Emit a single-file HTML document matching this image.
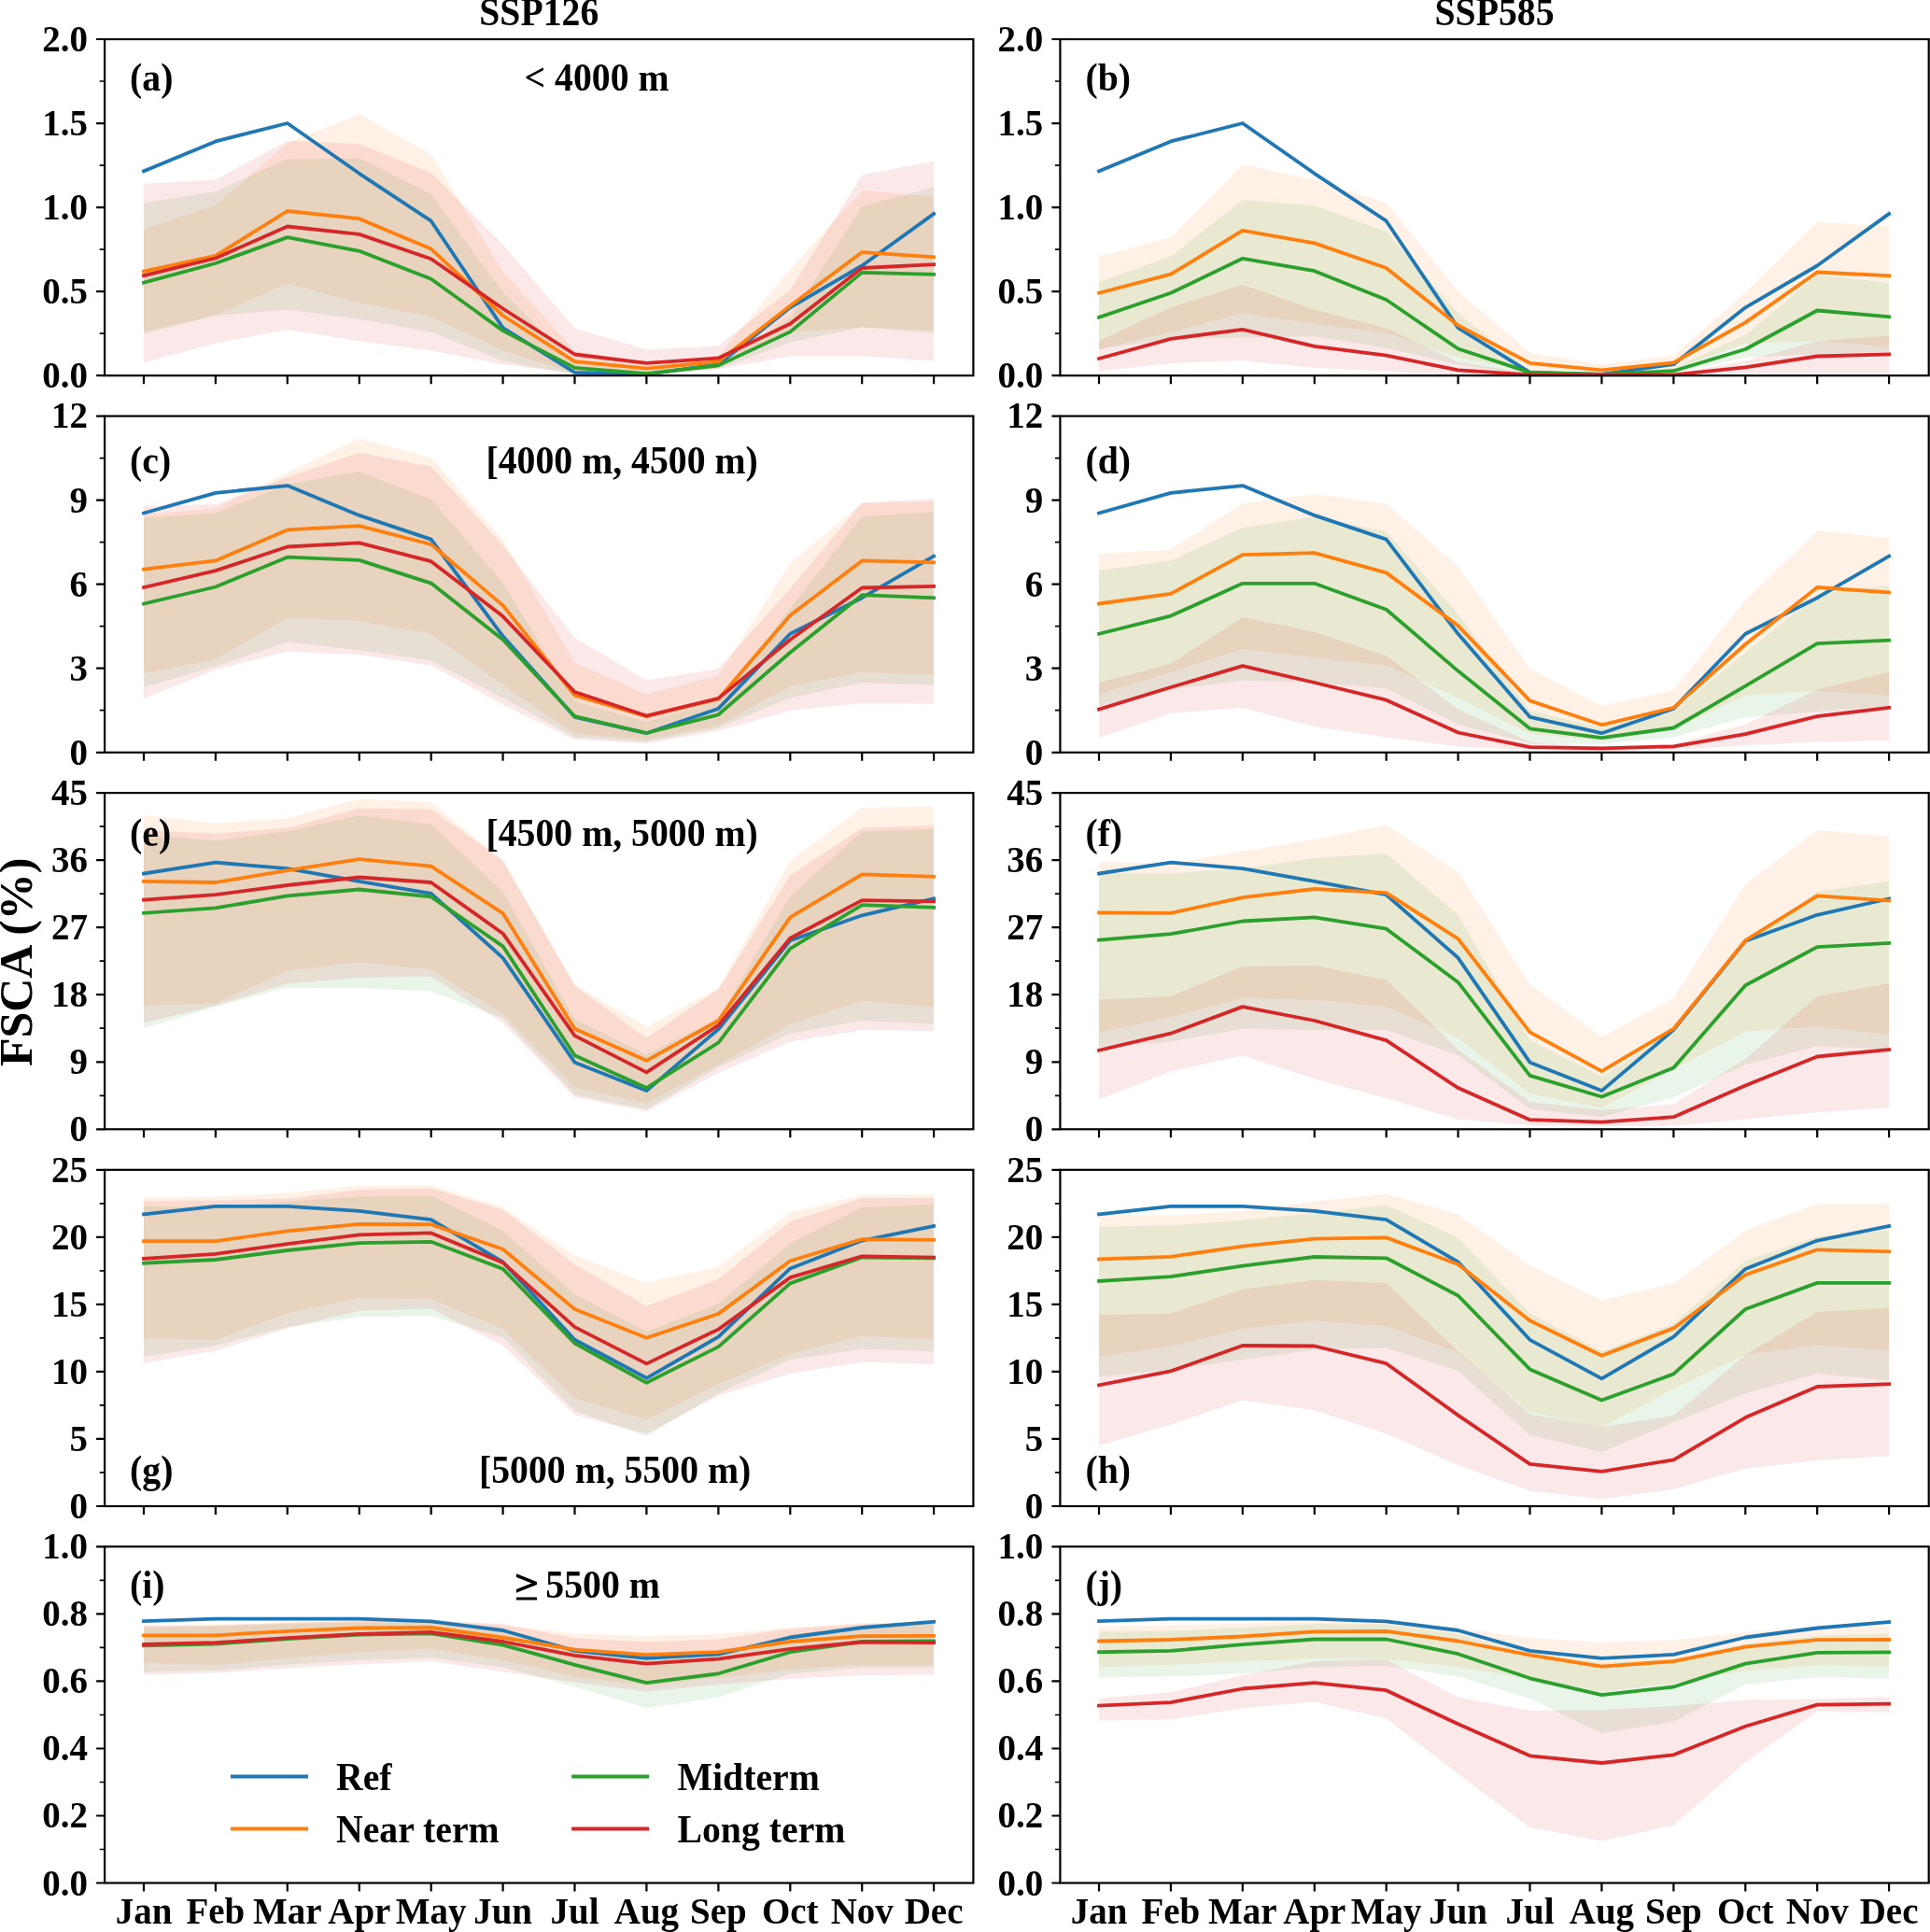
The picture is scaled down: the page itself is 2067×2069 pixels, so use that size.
<!DOCTYPE html><html><head><meta charset="utf-8"><title>FSCA</title><style>html,body{margin:0;padding:0;background:#fff;}svg{display:block;will-change:transform;}text{font-family:"Liberation Serif",serif;font-weight:bold;fill:#000;}.t{font-size:39.0px;}.a{font-size:39.75px;}</style></head><body>
<svg width="2067" height="2069" viewBox="0 0 2067 2069">
<rect x="0" y="0" width="2067" height="2069" fill="#fff"/>
<g>
<polygon fill="#ff7f0e" fill-opacity="0.105" points="154.0,245.4 230.9,220.1 307.8,153.2 384.8,122.1 461.7,165.6 538.6,290.7 615.5,375.3 692.4,390.2 769.4,381.5 846.3,288.2 923.2,203.7 1000.1,211.1 1000.1,354.1 923.2,350.4 846.3,355.4 769.4,393.9 692.4,401.4 615.5,400.1 538.6,375.3 461.7,339.2 384.8,324.3 307.8,303.6 230.9,337.5 154.0,354.9"/>
<polygon fill="#2ca02c" fill-opacity="0.105" points="154.0,217.3 230.9,204.9 307.8,170.6 384.8,169.6 461.7,208.1 538.6,313.1 615.5,388.9 692.4,397.6 769.4,388.9 846.3,340.4 923.2,221.1 1000.1,200.4 1000.1,356.6 923.2,350.4 846.3,366.6 769.4,395.2 692.4,401.4 615.5,401.4 538.6,386.5 461.7,355.4 384.8,341.7 307.8,331.7 230.9,338.0 154.0,357.4"/>
<polygon fill="#d62728" fill-opacity="0.105" points="154.0,196.7 230.9,192.5 307.8,150.7 384.8,153.9 461.7,185.0 538.6,262.1 615.5,351.6 692.4,374.5 769.4,370.3 846.3,310.6 923.2,187.5 1000.1,172.6 1000.1,386.5 923.2,381.5 846.3,381.5 769.4,395.2 692.4,401.4 615.5,400.1 538.6,390.2 461.7,375.3 384.8,365.3 307.8,352.9 230.9,367.8 154.0,388.2"/>
<polyline fill="none" stroke="#1f77b4" stroke-width="3.8" stroke-linejoin="round" stroke-linecap="square" points="154.0,183.3 230.9,151.4 307.8,132.0 384.8,185.8 461.7,236.7 538.6,351.1 615.5,398.9 692.4,400.9 769.4,390.2 846.3,329.3 923.2,284.5 1000.1,229.0"/>
<polyline fill="none" stroke="#ff7f0e" stroke-width="3.8" stroke-linejoin="round" stroke-linecap="square" points="154.0,290.7 230.9,273.8 307.8,226.0 384.8,234.2 461.7,266.6 538.6,338.0 615.5,387.2 692.4,394.7 769.4,387.2 846.3,327.5 923.2,270.1 1000.1,275.3"/>
<polyline fill="none" stroke="#2ca02c" stroke-width="3.8" stroke-linejoin="round" stroke-linecap="square" points="154.0,302.6 230.9,282.0 307.8,254.1 384.8,268.8 461.7,298.7 538.6,354.1 615.5,393.9 692.4,400.1 769.4,391.4 846.3,355.4 923.2,291.9 1000.1,293.9"/>
<polyline fill="none" stroke="#d62728" stroke-width="3.8" stroke-linejoin="round" stroke-linecap="square" points="154.0,295.2 230.9,276.5 307.8,242.5 384.8,250.9 461.7,277.3 538.6,330.5 615.5,379.5 692.4,388.9 769.4,383.5 846.3,346.7 923.2,287.0 1000.1,283.2"/>
<rect x="112.1" y="42.0" width="930.3" height="360.2" fill="none" stroke="#000" stroke-width="2.2"/>
<path d="M154.0 402.2v9.0M230.9 402.2v9.0M307.8 402.2v9.0M384.8 402.2v9.0M461.7 402.2v9.0M538.6 402.2v9.0M615.5 402.2v9.0M692.4 402.2v9.0M769.4 402.2v9.0M846.3 402.2v9.0M923.2 402.2v9.0M1000.1 402.2v9.0M112.1 402.2h-9.0M112.1 312.1h-9.0M112.1 222.1h-9.0M112.1 132.1h-9.0M112.1 42.0h-9.0" stroke="#000" stroke-width="2.2" fill="none"/>
<path d="M112.1 357.2h-5.4M112.1 267.1h-5.4M112.1 177.1h-5.4M112.1 87.0h-5.4" stroke="#000" stroke-width="1.7" fill="none"/>
<text class="t" text-anchor="end" transform="translate(93.9,415.1) scale(1,1.045)">0.0</text>
<text class="t" text-anchor="end" transform="translate(93.9,325.0) scale(1,1.045)">0.5</text>
<text class="t" text-anchor="end" transform="translate(93.9,235.0) scale(1,1.045)">1.0</text>
<text class="t" text-anchor="end" transform="translate(93.9,145.0) scale(1,1.045)">1.5</text>
<text class="t" text-anchor="end" transform="translate(93.9,54.9) scale(1,1.045)">2.0</text>
</g>
<g>
<polygon fill="#ff7f0e" fill-opacity="0.105" points="1177.0,274.5 1253.9,253.9 1330.8,176.3 1407.8,192.5 1484.7,217.3 1561.6,311.8 1638.5,377.8 1715.4,390.2 1792.4,380.7 1869.3,313.1 1946.2,237.7 2023.1,242.2 2023.1,371.5 1946.2,365.3 1869.3,367.8 1792.4,395.2 1715.4,400.1 1638.5,397.6 1561.6,382.7 1484.7,356.6 1407.8,346.7 1330.8,335.5 1253.9,355.4 1177.0,374.0"/>
<polygon fill="#2ca02c" fill-opacity="0.105" points="1177.0,301.9 1253.9,274.5 1330.8,214.1 1407.8,220.3 1484.7,247.9 1561.6,335.5 1638.5,396.4 1715.4,400.1 1792.4,393.9 1869.3,359.1 1946.2,294.4 2023.1,303.1 2023.1,376.5 1946.2,379.0 1869.3,382.7 1792.4,400.1 1715.4,401.4 1638.5,401.4 1561.6,390.2 1484.7,372.8 1407.8,360.3 1330.8,361.6 1253.9,362.8 1177.0,374.0"/>
<polygon fill="#d62728" fill-opacity="0.105" points="1177.0,365.3 1253.9,329.3 1330.8,305.1 1407.8,331.7 1484.7,351.6 1561.6,387.7 1638.5,400.1 1715.4,401.4 1792.4,400.1 1869.3,386.5 1946.2,365.3 2023.1,359.8 2023.1,400.1 1946.2,400.1 1869.3,400.1 1792.4,401.4 1715.4,401.4 1638.5,401.4 1561.6,401.4 1484.7,397.6 1407.8,393.9 1330.8,386.0 1253.9,388.9 1177.0,397.6"/>
<polyline fill="none" stroke="#1f77b4" stroke-width="3.8" stroke-linejoin="round" stroke-linecap="square" points="1177.0,183.3 1253.9,151.4 1330.8,132.0 1407.8,185.8 1484.7,236.7 1561.6,351.1 1638.5,398.9 1715.4,400.9 1792.4,390.2 1869.3,329.3 1946.2,284.5 2023.1,229.0"/>
<polyline fill="none" stroke="#ff7f0e" stroke-width="3.8" stroke-linejoin="round" stroke-linecap="square" points="1177.0,313.8 1253.9,293.7 1330.8,246.9 1407.8,260.4 1484.7,287.0 1561.6,348.4 1638.5,388.9 1715.4,396.4 1792.4,388.4 1869.3,345.4 1946.2,291.5 2023.1,295.2"/>
<polyline fill="none" stroke="#2ca02c" stroke-width="3.8" stroke-linejoin="round" stroke-linecap="square" points="1177.0,339.9 1253.9,313.8 1330.8,276.8 1407.8,290.2 1484.7,321.0 1561.6,373.5 1638.5,398.9 1715.4,400.9 1792.4,397.2 1869.3,374.0 1946.2,332.5 2023.1,339.2"/>
<polyline fill="none" stroke="#d62728" stroke-width="3.8" stroke-linejoin="round" stroke-linecap="square" points="1177.0,384.0 1253.9,362.8 1330.8,352.9 1407.8,370.8 1484.7,380.7 1561.6,396.4 1638.5,401.4 1715.4,401.4 1792.4,401.4 1869.3,393.4 1946.2,381.5 2023.1,379.5"/>
<rect x="1135.4" y="42.0" width="930.3" height="360.2" fill="none" stroke="#000" stroke-width="2.2"/>
<path d="M1177.0 402.2v9.0M1253.9 402.2v9.0M1330.8 402.2v9.0M1407.8 402.2v9.0M1484.7 402.2v9.0M1561.6 402.2v9.0M1638.5 402.2v9.0M1715.4 402.2v9.0M1792.4 402.2v9.0M1869.3 402.2v9.0M1946.2 402.2v9.0M2023.1 402.2v9.0M1135.4 402.2h-9.0M1135.4 312.1h-9.0M1135.4 222.1h-9.0M1135.4 132.1h-9.0M1135.4 42.0h-9.0" stroke="#000" stroke-width="2.2" fill="none"/>
<path d="M1135.4 357.2h-5.4M1135.4 267.1h-5.4M1135.4 177.1h-5.4M1135.4 87.0h-5.4" stroke="#000" stroke-width="1.7" fill="none"/>
<text class="t" text-anchor="end" transform="translate(1117.2,415.1) scale(1,1.045)">0.0</text>
<text class="t" text-anchor="end" transform="translate(1117.2,325.0) scale(1,1.045)">0.5</text>
<text class="t" text-anchor="end" transform="translate(1117.2,235.0) scale(1,1.045)">1.0</text>
<text class="t" text-anchor="end" transform="translate(1117.2,145.0) scale(1,1.045)">1.5</text>
<text class="t" text-anchor="end" transform="translate(1117.2,54.9) scale(1,1.045)">2.0</text>
</g>
<g>
<polygon fill="#ff7f0e" fill-opacity="0.105" points="154.0,550.7 230.9,544.5 307.8,505.9 384.8,469.4 461.7,490.3 538.6,578.1 615.5,709.9 692.4,743.4 769.4,723.5 846.3,602.9 923.2,539.0 1000.1,537.0 1000.1,722.8 923.2,719.8 846.3,734.7 769.4,777.0 692.4,791.9 615.5,785.7 538.6,733.5 461.7,678.8 384.8,665.1 307.8,661.4 230.9,706.1 154.0,721.1"/>
<polygon fill="#2ca02c" fill-opacity="0.105" points="154.0,554.4 230.9,549.5 307.8,518.4 384.8,505.2 461.7,534.5 538.6,624.1 615.5,750.9 692.4,773.3 769.4,750.9 846.3,651.4 923.2,553.2 1000.1,548.2 1000.1,733.5 923.2,731.0 846.3,747.2 769.4,779.5 692.4,794.4 615.5,789.5 538.6,747.2 461.7,707.4 384.8,696.2 307.8,687.5 230.9,713.6 154.0,736.0"/>
<polygon fill="#d62728" fill-opacity="0.105" points="154.0,542.0 230.9,540.0 307.8,510.9 384.8,484.8 461.7,499.7 538.6,584.3 615.5,683.0 692.4,728.5 769.4,716.1 846.3,630.3 923.2,538.3 1000.1,534.0 1000.1,753.4 923.2,752.9 846.3,760.9 769.4,782.7 692.4,796.2 615.5,791.9 538.6,754.6 461.7,712.4 384.8,701.2 307.8,697.4 230.9,717.3 154.0,747.9"/>
<polyline fill="none" stroke="#1f77b4" stroke-width="3.8" stroke-linejoin="round" stroke-linecap="square" points="154.0,549.5 230.9,527.8 307.8,520.1 384.8,551.9 461.7,577.6 538.6,681.3 615.5,767.8 692.4,785.2 769.4,758.9 846.3,678.8 923.2,640.2 1000.1,595.5"/>
<polyline fill="none" stroke="#ff7f0e" stroke-width="3.8" stroke-linejoin="round" stroke-linecap="square" points="154.0,609.6 230.9,600.4 307.8,567.4 384.8,563.1 461.7,583.0 538.6,648.4 615.5,744.7 692.4,767.1 769.4,748.4 846.3,658.9 923.2,600.4 1000.1,602.4"/>
<polyline fill="none" stroke="#2ca02c" stroke-width="3.8" stroke-linejoin="round" stroke-linecap="square" points="154.0,646.5 230.9,628.5 307.8,596.7 384.8,599.9 461.7,624.6 538.6,685.0 615.5,767.1 692.4,785.0 769.4,765.3 846.3,698.7 923.2,637.2 1000.1,640.2"/>
<polyline fill="none" stroke="#d62728" stroke-width="3.8" stroke-linejoin="round" stroke-linecap="square" points="154.0,629.0 230.9,611.1 307.8,585.5 384.8,581.3 461.7,601.2 538.6,660.1 615.5,741.0 692.4,766.6 769.4,747.9 846.3,685.0 923.2,629.5 1000.1,628.0"/>
<rect x="112.1" y="445.6" width="930.3" height="360.2" fill="none" stroke="#000" stroke-width="2.2"/>
<path d="M154.0 805.8v9.0M230.9 805.8v9.0M307.8 805.8v9.0M384.8 805.8v9.0M461.7 805.8v9.0M538.6 805.8v9.0M615.5 805.8v9.0M692.4 805.8v9.0M769.4 805.8v9.0M846.3 805.8v9.0M923.2 805.8v9.0M1000.1 805.8v9.0M112.1 805.8h-9.0M112.1 715.7h-9.0M112.1 625.6h-9.0M112.1 535.6h-9.0M112.1 445.6h-9.0" stroke="#000" stroke-width="2.2" fill="none"/>
<path d="M112.1 760.7h-5.4M112.1 670.7h-5.4M112.1 580.6h-5.4M112.1 490.6h-5.4" stroke="#000" stroke-width="1.7" fill="none"/>
<text class="t" text-anchor="end" transform="translate(93.9,818.6) scale(1,1.045)">0</text>
<text class="t" text-anchor="end" transform="translate(93.9,728.6) scale(1,1.045)">3</text>
<text class="t" text-anchor="end" transform="translate(93.9,638.5) scale(1,1.045)">6</text>
<text class="t" text-anchor="end" transform="translate(93.9,548.5) scale(1,1.045)">9</text>
<text class="t" text-anchor="end" transform="translate(93.9,458.4) scale(1,1.045)">12</text>
</g>
<g>
<polygon fill="#ff7f0e" fill-opacity="0.105" points="1177.0,593.0 1253.9,588.5 1330.8,539.0 1407.8,529.1 1484.7,539.5 1561.6,606.7 1638.5,716.1 1715.4,755.9 1792.4,739.0 1869.3,642.7 1946.2,568.1 2023.1,576.3 2023.1,744.7 1946.2,739.7 1869.3,744.7 1792.4,780.8 1715.4,793.2 1638.5,785.7 1561.6,747.2 1484.7,712.4 1407.8,704.2 1330.8,694.9 1253.9,719.8 1177.0,743.4"/>
<polygon fill="#2ca02c" fill-opacity="0.105" points="1177.0,611.1 1253.9,600.4 1330.8,565.1 1407.8,553.2 1484.7,569.4 1561.6,657.6 1638.5,760.9 1715.4,779.5 1792.4,762.1 1869.3,698.7 1946.2,636.5 2023.1,627.1 2023.1,755.9 1946.2,762.1 1869.3,768.3 1792.4,789.5 1715.4,796.9 1638.5,795.7 1561.6,775.8 1484.7,737.2 1407.8,731.0 1330.8,728.5 1253.9,738.5 1177.0,755.9"/>
<polygon fill="#d62728" fill-opacity="0.105" points="1177.0,731.0 1253.9,711.1 1330.8,660.9 1407.8,676.8 1484.7,702.4 1561.6,759.6 1638.5,794.4 1715.4,799.4 1792.4,796.9 1869.3,775.8 1946.2,738.5 2023.1,719.8 2023.1,793.2 1946.2,794.4 1869.3,798.2 1792.4,803.1 1715.4,803.6 1638.5,803.1 1561.6,799.4 1484.7,789.5 1407.8,778.3 1330.8,757.9 1253.9,763.8 1177.0,790.2"/>
<polyline fill="none" stroke="#1f77b4" stroke-width="3.8" stroke-linejoin="round" stroke-linecap="square" points="1177.0,549.5 1253.9,527.8 1330.8,520.1 1407.8,551.9 1484.7,577.6 1561.6,678.8 1638.5,767.8 1715.4,785.2 1792.4,758.9 1869.3,678.8 1946.2,640.2 2023.1,595.5"/>
<polyline fill="none" stroke="#ff7f0e" stroke-width="3.8" stroke-linejoin="round" stroke-linecap="square" points="1177.0,646.5 1253.9,635.8 1330.8,594.2 1407.8,592.2 1484.7,613.4 1561.6,670.1 1638.5,750.4 1715.4,776.3 1792.4,757.9 1869.3,690.0 1946.2,629.0 2023.1,634.5"/>
<polyline fill="none" stroke="#2ca02c" stroke-width="3.8" stroke-linejoin="round" stroke-linecap="square" points="1177.0,678.8 1253.9,659.6 1330.8,624.8 1407.8,624.8 1484.7,652.7 1561.6,718.6 1638.5,780.3 1715.4,790.2 1792.4,779.5 1869.3,734.7 1946.2,689.2 2023.1,685.7"/>
<polyline fill="none" stroke="#d62728" stroke-width="3.8" stroke-linejoin="round" stroke-linecap="square" points="1177.0,759.6 1253.9,736.0 1330.8,713.1 1407.8,731.0 1484.7,749.7 1561.6,784.5 1638.5,800.2 1715.4,801.4 1792.4,799.4 1869.3,786.2 1946.2,767.1 2023.1,757.9"/>
<rect x="1135.4" y="445.6" width="930.3" height="360.2" fill="none" stroke="#000" stroke-width="2.2"/>
<path d="M1177.0 805.8v9.0M1253.9 805.8v9.0M1330.8 805.8v9.0M1407.8 805.8v9.0M1484.7 805.8v9.0M1561.6 805.8v9.0M1638.5 805.8v9.0M1715.4 805.8v9.0M1792.4 805.8v9.0M1869.3 805.8v9.0M1946.2 805.8v9.0M2023.1 805.8v9.0M1135.4 805.8h-9.0M1135.4 715.7h-9.0M1135.4 625.6h-9.0M1135.4 535.6h-9.0M1135.4 445.6h-9.0" stroke="#000" stroke-width="2.2" fill="none"/>
<path d="M1135.4 760.7h-5.4M1135.4 670.7h-5.4M1135.4 580.6h-5.4M1135.4 490.6h-5.4" stroke="#000" stroke-width="1.7" fill="none"/>
<text class="t" text-anchor="end" transform="translate(1117.2,818.6) scale(1,1.045)">0</text>
<text class="t" text-anchor="end" transform="translate(1117.2,728.6) scale(1,1.045)">3</text>
<text class="t" text-anchor="end" transform="translate(1117.2,638.5) scale(1,1.045)">6</text>
<text class="t" text-anchor="end" transform="translate(1117.2,548.5) scale(1,1.045)">9</text>
<text class="t" text-anchor="end" transform="translate(1117.2,458.4) scale(1,1.045)">12</text>
</g>
<g>
<polygon fill="#ff7f0e" fill-opacity="0.105" points="154.0,872.9 230.9,881.6 307.8,876.6 384.8,855.5 461.7,859.2 538.6,921.4 615.5,1054.4 692.4,1099.7 769.4,1058.2 846.3,921.9 923.2,864.9 1000.1,863.4 1000.1,1078.8 923.2,1071.8 846.3,1096.7 769.4,1140.2 692.4,1181.3 615.5,1165.1 538.6,1085.5 461.7,1038.3 384.8,1030.3 307.8,1039.5 230.9,1074.3 154.0,1076.8"/>
<polygon fill="#2ca02c" fill-opacity="0.105" points="154.0,894.0 230.9,900.2 307.8,890.3 384.8,873.6 461.7,882.8 538.6,954.9 615.5,1091.7 692.4,1129.0 769.4,1090.5 846.3,959.9 923.2,890.8 1000.1,887.8 1000.1,1096.7 923.2,1093.0 846.3,1106.7 769.4,1142.7 692.4,1188.2 615.5,1172.6 538.6,1090.5 461.7,1061.4 384.8,1058.2 307.8,1057.4 230.9,1078.1 154.0,1101.2"/>
<polygon fill="#d62728" fill-opacity="0.105" points="154.0,889.0 230.9,892.8 307.8,886.5 384.8,865.4 461.7,866.7 538.6,921.4 615.5,1055.7 692.4,1111.6 769.4,1059.4 846.3,937.5 923.2,886.5 1000.1,884.1 1000.1,1104.2 923.2,1102.9 846.3,1115.4 769.4,1148.9 692.4,1190.0 615.5,1175.0 538.6,1095.5 461.7,1045.7 384.8,1047.0 307.8,1053.2 230.9,1076.8 154.0,1095.5"/>
<polyline fill="none" stroke="#1f77b4" stroke-width="3.8" stroke-linejoin="round" stroke-linecap="square" points="154.0,935.5 230.9,923.6 307.8,930.1 384.8,943.8 461.7,956.9 538.6,1025.8 615.5,1137.7 692.4,1168.1 769.4,1102.2 846.3,1007.2 923.2,980.3 1000.1,962.4"/>
<polyline fill="none" stroke="#ff7f0e" stroke-width="3.8" stroke-linejoin="round" stroke-linecap="square" points="154.0,943.8 230.9,945.0 307.8,932.1 384.8,920.1 461.7,927.6 538.6,978.1 615.5,1101.7 692.4,1135.8 769.4,1093.0 846.3,982.3 923.2,936.3 1000.1,938.8"/>
<polyline fill="none" stroke="#2ca02c" stroke-width="3.8" stroke-linejoin="round" stroke-linecap="square" points="154.0,977.8 230.9,972.4 307.8,959.4 384.8,952.5 461.7,960.4 538.6,1013.4 615.5,1130.3 692.4,1165.1 769.4,1116.6 846.3,1015.9 923.2,969.1 1000.1,971.9"/>
<polyline fill="none" stroke="#d62728" stroke-width="3.8" stroke-linejoin="round" stroke-linecap="square" points="154.0,963.6 230.9,958.2 307.8,948.0 384.8,939.5 461.7,945.0 538.6,999.7 615.5,1109.1 692.4,1148.4 769.4,1097.9 846.3,1004.7 923.2,964.1 1000.1,965.4"/>
<rect x="112.1" y="849.1" width="930.3" height="360.2" fill="none" stroke="#000" stroke-width="2.2"/>
<path d="M154.0 1209.3v9.0M230.9 1209.3v9.0M307.8 1209.3v9.0M384.8 1209.3v9.0M461.7 1209.3v9.0M538.6 1209.3v9.0M615.5 1209.3v9.0M692.4 1209.3v9.0M769.4 1209.3v9.0M846.3 1209.3v9.0M923.2 1209.3v9.0M1000.1 1209.3v9.0M112.1 1209.3h-9.0M112.1 1137.3h-9.0M112.1 1065.2h-9.0M112.1 993.2h-9.0M112.1 921.1h-9.0M112.1 849.1h-9.0" stroke="#000" stroke-width="2.2" fill="none"/>
<path d="M112.1 1173.3h-5.4M112.1 1101.2h-5.4M112.1 1029.2h-5.4M112.1 957.2h-5.4M112.1 885.1h-5.4" stroke="#000" stroke-width="1.7" fill="none"/>
<text class="t" text-anchor="end" transform="translate(93.9,1222.2) scale(1,1.045)">0</text>
<text class="t" text-anchor="end" transform="translate(93.9,1150.2) scale(1,1.045)">9</text>
<text class="t" text-anchor="end" transform="translate(93.9,1078.1) scale(1,1.045)">18</text>
<text class="t" text-anchor="end" transform="translate(93.9,1006.1) scale(1,1.045)">27</text>
<text class="t" text-anchor="end" transform="translate(93.9,934.0) scale(1,1.045)">36</text>
<text class="t" text-anchor="end" transform="translate(93.9,862.0) scale(1,1.045)">45</text>
</g>
<g>
<polygon fill="#ff7f0e" fill-opacity="0.105" points="1177.0,922.6 1253.9,925.1 1330.8,911.4 1407.8,899.0 1484.7,883.3 1561.6,933.8 1638.5,1053.9 1715.4,1110.4 1792.4,1068.8 1869.3,947.0 1946.2,889.0 2023.1,895.8 2023.1,1107.9 1946.2,1099.2 1869.3,1104.2 1792.4,1145.2 1715.4,1186.2 1638.5,1171.3 1561.6,1111.6 1484.7,1078.1 1407.8,1070.6 1330.8,1068.8 1253.9,1089.2 1177.0,1105.4"/>
<polygon fill="#2ca02c" fill-opacity="0.105" points="1177.0,935.0 1253.9,935.5 1330.8,930.1 1407.8,918.9 1484.7,913.9 1561.6,979.8 1638.5,1114.1 1715.4,1152.7 1792.4,1105.4 1869.3,1009.7 1946.2,954.9 2023.1,943.8 2023.1,1124.1 1946.2,1120.3 1869.3,1140.2 1792.4,1175.0 1715.4,1196.2 1638.5,1187.5 1561.6,1130.3 1484.7,1102.9 1407.8,1102.9 1330.8,1101.7 1253.9,1115.4 1177.0,1121.6"/>
<polygon fill="#d62728" fill-opacity="0.105" points="1177.0,1070.6 1253.9,1066.9 1330.8,1035.0 1407.8,1034.0 1484.7,1049.5 1561.6,1124.1 1638.5,1180.0 1715.4,1188.7 1792.4,1182.5 1869.3,1134.0 1946.2,1066.9 2023.1,1053.2 2023.1,1186.2 1946.2,1191.2 1869.3,1198.7 1792.4,1205.6 1715.4,1206.1 1638.5,1204.9 1561.6,1198.7 1484.7,1176.3 1407.8,1155.2 1330.8,1130.3 1253.9,1147.2 1177.0,1177.5"/>
<polyline fill="none" stroke="#1f77b4" stroke-width="3.8" stroke-linejoin="round" stroke-linecap="square" points="1177.0,935.5 1253.9,923.6 1330.8,930.1 1407.8,943.8 1484.7,958.2 1561.6,1025.8 1638.5,1137.7 1715.4,1168.1 1792.4,1102.9 1869.3,1007.7 1946.2,979.8 2023.1,962.4"/>
<polyline fill="none" stroke="#ff7f0e" stroke-width="3.8" stroke-linejoin="round" stroke-linecap="square" points="1177.0,977.3 1253.9,977.8 1330.8,961.2 1407.8,952.0 1484.7,956.2 1561.6,1005.4 1638.5,1105.4 1715.4,1147.2 1792.4,1101.7 1869.3,1007.2 1946.2,959.4 2023.1,964.4"/>
<polyline fill="none" stroke="#2ca02c" stroke-width="3.8" stroke-linejoin="round" stroke-linecap="square" points="1177.0,1006.7 1253.9,1000.2 1330.8,986.5 1407.8,982.3 1484.7,994.7 1561.6,1051.9 1638.5,1151.9 1715.4,1174.5 1792.4,1143.5 1869.3,1055.2 1946.2,1014.1 2023.1,1009.9"/>
<polyline fill="none" stroke="#d62728" stroke-width="3.8" stroke-linejoin="round" stroke-linecap="square" points="1177.0,1124.8 1253.9,1106.7 1330.8,1078.1 1407.8,1093.0 1484.7,1114.1 1561.6,1165.1 1638.5,1199.2 1715.4,1201.7 1792.4,1196.2 1869.3,1162.6 1946.2,1131.5 2023.1,1124.1"/>
<rect x="1135.4" y="849.1" width="930.3" height="360.2" fill="none" stroke="#000" stroke-width="2.2"/>
<path d="M1177.0 1209.3v9.0M1253.9 1209.3v9.0M1330.8 1209.3v9.0M1407.8 1209.3v9.0M1484.7 1209.3v9.0M1561.6 1209.3v9.0M1638.5 1209.3v9.0M1715.4 1209.3v9.0M1792.4 1209.3v9.0M1869.3 1209.3v9.0M1946.2 1209.3v9.0M2023.1 1209.3v9.0M1135.4 1209.3h-9.0M1135.4 1137.3h-9.0M1135.4 1065.2h-9.0M1135.4 993.2h-9.0M1135.4 921.1h-9.0M1135.4 849.1h-9.0" stroke="#000" stroke-width="2.2" fill="none"/>
<path d="M1135.4 1173.3h-5.4M1135.4 1101.2h-5.4M1135.4 1029.2h-5.4M1135.4 957.2h-5.4M1135.4 885.1h-5.4" stroke="#000" stroke-width="1.7" fill="none"/>
<text class="t" text-anchor="end" transform="translate(1117.2,1222.2) scale(1,1.045)">0</text>
<text class="t" text-anchor="end" transform="translate(1117.2,1150.2) scale(1,1.045)">9</text>
<text class="t" text-anchor="end" transform="translate(1117.2,1078.1) scale(1,1.045)">18</text>
<text class="t" text-anchor="end" transform="translate(1117.2,1006.1) scale(1,1.045)">27</text>
<text class="t" text-anchor="end" transform="translate(1117.2,934.0) scale(1,1.045)">36</text>
<text class="t" text-anchor="end" transform="translate(1117.2,862.0) scale(1,1.045)">45</text>
</g>
<g>
<polygon fill="#ff7f0e" fill-opacity="0.105" points="154.0,1282.3 230.9,1281.3 307.8,1277.6 384.8,1269.9 461.7,1269.4 538.6,1293.0 615.5,1344.5 692.4,1373.4 769.4,1356.5 846.3,1298.5 923.2,1279.9 1000.1,1278.9 1000.1,1434.1 923.2,1431.1 846.3,1449.7 769.4,1482.1 692.4,1520.6 615.5,1497.0 538.6,1423.6 461.7,1390.8 384.8,1390.0 307.8,1406.2 230.9,1434.8 154.0,1433.6"/>
<polygon fill="#2ca02c" fill-opacity="0.105" points="154.0,1291.8 230.9,1293.0 307.8,1286.8 384.8,1281.3 461.7,1280.6 538.6,1317.9 615.5,1386.3 692.4,1426.1 769.4,1396.2 846.3,1331.6 923.2,1293.0 1000.1,1289.8 1000.1,1447.2 923.2,1444.7 846.3,1455.9 769.4,1492.0 692.4,1538.0 615.5,1510.7 538.6,1432.3 461.7,1409.2 384.8,1410.4 307.8,1421.1 230.9,1441.0 154.0,1453.0"/>
<polygon fill="#d62728" fill-opacity="0.105" points="154.0,1286.3 230.9,1285.6 307.8,1283.8 384.8,1273.9 461.7,1272.4 538.6,1295.5 615.5,1354.0 692.4,1398.7 769.4,1370.1 846.3,1308.0 923.2,1283.1 1000.1,1283.1 1000.1,1460.9 923.2,1458.4 846.3,1470.9 769.4,1494.5 692.4,1535.5 615.5,1515.1 538.6,1441.0 461.7,1401.2 384.8,1403.7 307.8,1422.4 230.9,1446.5 154.0,1459.7"/>
<polyline fill="none" stroke="#1f77b4" stroke-width="3.8" stroke-linejoin="round" stroke-linecap="square" points="154.0,1300.5 230.9,1291.8 307.8,1291.8 384.8,1296.8 461.7,1306.2 538.6,1351.5 615.5,1434.8 692.4,1475.8 769.4,1431.6 846.3,1358.4 923.2,1328.6 1000.1,1312.9"/>
<polyline fill="none" stroke="#ff7f0e" stroke-width="3.8" stroke-linejoin="round" stroke-linecap="square" points="154.0,1329.1 230.9,1329.1 307.8,1318.4 384.8,1310.9 461.7,1311.2 538.6,1337.8 615.5,1402.0 692.4,1432.8 769.4,1406.9 846.3,1350.2 923.2,1327.1 1000.1,1327.9"/>
<polyline fill="none" stroke="#2ca02c" stroke-width="3.8" stroke-linejoin="round" stroke-linecap="square" points="154.0,1352.7 230.9,1349.0 307.8,1339.0 384.8,1331.1 461.7,1329.8 538.6,1358.9 615.5,1438.5 692.4,1480.8 769.4,1442.3 846.3,1374.4 923.2,1346.5 1000.1,1347.3"/>
<polyline fill="none" stroke="#d62728" stroke-width="3.8" stroke-linejoin="round" stroke-linecap="square" points="154.0,1348.0 230.9,1342.8 307.8,1332.1 384.8,1322.4 461.7,1320.4 538.6,1352.2 615.5,1421.1 692.4,1460.4 769.4,1423.6 846.3,1368.1 923.2,1345.3 1000.1,1346.5"/>
<rect x="112.1" y="1252.8" width="930.3" height="360.2" fill="none" stroke="#000" stroke-width="2.2"/>
<path d="M154.0 1613.0v9.0M230.9 1613.0v9.0M307.8 1613.0v9.0M384.8 1613.0v9.0M461.7 1613.0v9.0M538.6 1613.0v9.0M615.5 1613.0v9.0M692.4 1613.0v9.0M769.4 1613.0v9.0M846.3 1613.0v9.0M923.2 1613.0v9.0M1000.1 1613.0v9.0M112.1 1613.0h-9.0M112.1 1540.9h-9.0M112.1 1468.9h-9.0M112.1 1396.8h-9.0M112.1 1324.8h-9.0M112.1 1252.8h-9.0" stroke="#000" stroke-width="2.2" fill="none"/>
<path d="M112.1 1576.9h-5.4M112.1 1504.9h-5.4M112.1 1432.9h-5.4M112.1 1360.8h-5.4M112.1 1288.8h-5.4" stroke="#000" stroke-width="1.7" fill="none"/>
<text class="t" text-anchor="end" transform="translate(93.9,1625.9) scale(1,1.045)">0</text>
<text class="t" text-anchor="end" transform="translate(93.9,1553.8) scale(1,1.045)">5</text>
<text class="t" text-anchor="end" transform="translate(93.9,1481.8) scale(1,1.045)">10</text>
<text class="t" text-anchor="end" transform="translate(93.9,1409.7) scale(1,1.045)">15</text>
<text class="t" text-anchor="end" transform="translate(93.9,1337.7) scale(1,1.045)">20</text>
<text class="t" text-anchor="end" transform="translate(93.9,1265.7) scale(1,1.045)">25</text>
</g>
<g>
<polygon fill="#ff7f0e" fill-opacity="0.105" points="1177.0,1300.5 1253.9,1301.7 1330.8,1296.8 1407.8,1286.8 1484.7,1278.6 1561.6,1300.5 1638.5,1355.2 1715.4,1392.5 1792.4,1374.4 1869.3,1317.9 1946.2,1288.8 2023.1,1288.8 2023.1,1446.5 1946.2,1440.5 1869.3,1450.5 1792.4,1487.0 1715.4,1528.6 1638.5,1511.9 1561.6,1448.5 1484.7,1419.9 1407.8,1414.2 1330.8,1423.1 1253.9,1441.5 1177.0,1453.0"/>
<polygon fill="#2ca02c" fill-opacity="0.105" points="1177.0,1313.7 1253.9,1312.4 1330.8,1306.7 1407.8,1299.3 1484.7,1290.5 1561.6,1325.4 1638.5,1406.2 1715.4,1447.2 1792.4,1417.4 1869.3,1350.2 1946.2,1324.1 2023.1,1317.2 2023.1,1478.3 1946.2,1470.9 1869.3,1492.0 1792.4,1523.1 1715.4,1554.9 1638.5,1536.8 1561.6,1467.9 1484.7,1443.5 1407.8,1445.5 1330.8,1455.9 1253.9,1467.1 1177.0,1474.6"/>
<polygon fill="#d62728" fill-opacity="0.105" points="1177.0,1408.2 1253.9,1406.7 1330.8,1380.8 1407.8,1370.9 1484.7,1373.9 1561.6,1447.2 1638.5,1514.4 1715.4,1528.1 1792.4,1516.1 1869.3,1451.0 1946.2,1405.0 2023.1,1400.7 2023.1,1559.2 1946.2,1564.1 1869.3,1572.8 1792.4,1594.7 1715.4,1605.2 1638.5,1596.5 1561.6,1569.1 1484.7,1535.5 1407.8,1510.2 1330.8,1499.5 1253.9,1525.6 1177.0,1548.0"/>
<polyline fill="none" stroke="#1f77b4" stroke-width="3.8" stroke-linejoin="round" stroke-linecap="square" points="1177.0,1300.5 1253.9,1291.8 1330.8,1291.8 1407.8,1296.8 1484.7,1306.2 1561.6,1351.5 1638.5,1434.8 1715.4,1476.3 1792.4,1431.6 1869.3,1358.9 1946.2,1328.6 2023.1,1312.9"/>
<polyline fill="none" stroke="#ff7f0e" stroke-width="3.8" stroke-linejoin="round" stroke-linecap="square" points="1177.0,1348.5 1253.9,1345.8 1330.8,1334.6 1407.8,1326.6 1484.7,1325.4 1561.6,1354.0 1638.5,1414.2 1715.4,1451.7 1792.4,1422.4 1869.3,1365.2 1946.2,1338.3 2023.1,1340.3"/>
<polyline fill="none" stroke="#2ca02c" stroke-width="3.8" stroke-linejoin="round" stroke-linecap="square" points="1177.0,1371.9 1253.9,1367.2 1330.8,1355.7 1407.8,1346.0 1484.7,1347.3 1561.6,1387.5 1638.5,1466.4 1715.4,1499.5 1792.4,1471.4 1869.3,1402.0 1946.2,1373.9 2023.1,1373.9"/>
<polyline fill="none" stroke="#d62728" stroke-width="3.8" stroke-linejoin="round" stroke-linecap="square" points="1177.0,1483.3 1253.9,1468.4 1330.8,1441.0 1407.8,1441.5 1484.7,1460.2 1561.6,1515.6 1638.5,1567.9 1715.4,1575.8 1792.4,1563.4 1869.3,1518.1 1946.2,1485.0 2023.1,1482.1"/>
<rect x="1135.4" y="1252.8" width="930.3" height="360.2" fill="none" stroke="#000" stroke-width="2.2"/>
<path d="M1177.0 1613.0v9.0M1253.9 1613.0v9.0M1330.8 1613.0v9.0M1407.8 1613.0v9.0M1484.7 1613.0v9.0M1561.6 1613.0v9.0M1638.5 1613.0v9.0M1715.4 1613.0v9.0M1792.4 1613.0v9.0M1869.3 1613.0v9.0M1946.2 1613.0v9.0M2023.1 1613.0v9.0M1135.4 1613.0h-9.0M1135.4 1540.9h-9.0M1135.4 1468.9h-9.0M1135.4 1396.8h-9.0M1135.4 1324.8h-9.0M1135.4 1252.8h-9.0" stroke="#000" stroke-width="2.2" fill="none"/>
<path d="M1135.4 1576.9h-5.4M1135.4 1504.9h-5.4M1135.4 1432.9h-5.4M1135.4 1360.8h-5.4M1135.4 1288.8h-5.4" stroke="#000" stroke-width="1.7" fill="none"/>
<text class="t" text-anchor="end" transform="translate(1117.2,1625.9) scale(1,1.045)">0</text>
<text class="t" text-anchor="end" transform="translate(1117.2,1553.8) scale(1,1.045)">5</text>
<text class="t" text-anchor="end" transform="translate(1117.2,1481.8) scale(1,1.045)">10</text>
<text class="t" text-anchor="end" transform="translate(1117.2,1409.7) scale(1,1.045)">15</text>
<text class="t" text-anchor="end" transform="translate(1117.2,1337.7) scale(1,1.045)">20</text>
<text class="t" text-anchor="end" transform="translate(1117.2,1265.7) scale(1,1.045)">25</text>
</g>
<g>
<polygon fill="#ff7f0e" fill-opacity="0.105" points="154.0,1740.6 230.9,1740.1 307.8,1737.6 384.8,1735.6 461.7,1735.6 538.6,1740.6 615.5,1749.3 692.4,1751.8 769.4,1750.0 846.3,1743.0 923.2,1738.1 1000.1,1737.6 1000.1,1782.8 923.2,1782.8 846.3,1787.8 769.4,1796.5 692.4,1805.2 615.5,1795.3 538.6,1777.9 461.7,1765.4 384.8,1769.2 307.8,1775.4 230.9,1783.3 154.0,1780.4"/>
<polygon fill="#2ca02c" fill-opacity="0.105" points="154.0,1743.0 230.9,1741.8 307.8,1739.3 384.8,1737.6 461.7,1738.1 538.6,1746.8 615.5,1765.4 692.4,1775.4 769.4,1770.4 846.3,1750.5 923.2,1741.8 1000.1,1739.3 1000.1,1785.8 923.2,1785.8 846.3,1792.3 769.4,1817.7 692.4,1829.3 615.5,1806.5 538.6,1785.3 461.7,1775.4 384.8,1777.9 307.8,1782.8 230.9,1789.1 154.0,1790.3"/>
<polygon fill="#d62728" fill-opacity="0.105" points="154.0,1741.1 230.9,1740.6 307.8,1738.1 384.8,1736.1 461.7,1735.1 538.6,1739.3 615.5,1754.2 692.4,1758.5 769.4,1755.5 846.3,1744.3 923.2,1739.3 1000.1,1738.1 1000.1,1793.5 923.2,1794.0 846.3,1797.8 769.4,1804.0 692.4,1811.4 615.5,1801.5 538.6,1790.3 461.7,1779.1 384.8,1782.3 307.8,1786.6 230.9,1791.5 154.0,1793.5"/>
<polyline fill="none" stroke="#1f77b4" stroke-width="3.8" stroke-linejoin="round" stroke-linecap="square" points="154.0,1736.1 230.9,1733.6 307.8,1733.6 384.8,1733.6 461.7,1736.3 538.6,1746.0 615.5,1767.9 692.4,1775.9 769.4,1771.6 846.3,1753.5 923.2,1743.0 1000.1,1736.8"/>
<polyline fill="none" stroke="#ff7f0e" stroke-width="3.8" stroke-linejoin="round" stroke-linecap="square" points="154.0,1751.3 230.9,1751.3 307.8,1746.8 384.8,1743.5 461.7,1743.0 538.6,1753.7 615.5,1766.7 692.4,1772.1 769.4,1769.2 846.3,1758.0 923.2,1752.2 1000.1,1751.8"/>
<polyline fill="none" stroke="#2ca02c" stroke-width="3.8" stroke-linejoin="round" stroke-linecap="square" points="154.0,1762.4 230.9,1760.5 307.8,1755.0 384.8,1750.5 461.7,1749.3 538.6,1761.7 615.5,1782.8 692.4,1802.2 769.4,1792.3 846.3,1769.2 923.2,1758.0 1000.1,1757.5"/>
<polyline fill="none" stroke="#d62728" stroke-width="3.8" stroke-linejoin="round" stroke-linecap="square" points="154.0,1761.0 230.9,1759.2 307.8,1754.2 384.8,1749.8 461.7,1748.0 538.6,1758.0 615.5,1772.9 692.4,1781.6 769.4,1776.6 846.3,1765.9 923.2,1758.5 1000.1,1759.2"/>
<rect x="112.1" y="1656.3" width="930.3" height="360.2" fill="none" stroke="#000" stroke-width="2.2"/>
<path d="M154.0 2016.5v9.0M230.9 2016.5v9.0M307.8 2016.5v9.0M384.8 2016.5v9.0M461.7 2016.5v9.0M538.6 2016.5v9.0M615.5 2016.5v9.0M692.4 2016.5v9.0M769.4 2016.5v9.0M846.3 2016.5v9.0M923.2 2016.5v9.0M1000.1 2016.5v9.0M112.1 2016.5h-9.0M112.1 1944.5h-9.0M112.1 1872.5h-9.0M112.1 1800.4h-9.0M112.1 1728.4h-9.0M112.1 1656.3h-9.0" stroke="#000" stroke-width="2.2" fill="none"/>
<path d="M112.1 1980.5h-5.4M112.1 1908.5h-5.4M112.1 1836.5h-5.4M112.1 1764.4h-5.4M112.1 1692.4h-5.4" stroke="#000" stroke-width="1.7" fill="none"/>
<text class="t" text-anchor="end" transform="translate(93.9,2029.5) scale(1,1.045)">0.0</text>
<text class="t" text-anchor="end" transform="translate(93.9,1957.4) scale(1,1.045)">0.2</text>
<text class="t" text-anchor="end" transform="translate(93.9,1885.4) scale(1,1.045)">0.4</text>
<text class="t" text-anchor="end" transform="translate(93.9,1813.3) scale(1,1.045)">0.6</text>
<text class="t" text-anchor="end" transform="translate(93.9,1741.3) scale(1,1.045)">0.8</text>
<text class="t" text-anchor="end" transform="translate(93.9,1669.2) scale(1,1.045)">1.0</text>
<text class="t" text-anchor="middle" transform="translate(154.0,2060) scale(1,1.035)">Jan</text>
<text class="t" text-anchor="middle" transform="translate(230.9,2060) scale(1,1.035)">Feb</text>
<text class="t" text-anchor="middle" transform="translate(307.8,2060) scale(1,1.035)">Mar</text>
<text class="t" text-anchor="middle" transform="translate(384.8,2060) scale(1,1.035)">Apr</text>
<text class="t" text-anchor="middle" transform="translate(461.7,2060) scale(1,1.035)">May</text>
<text class="t" text-anchor="middle" transform="translate(538.6,2060) scale(1,1.035)">Jun</text>
<text class="t" text-anchor="middle" transform="translate(615.5,2060) scale(1,1.035)">Jul</text>
<text class="t" text-anchor="middle" transform="translate(692.4,2060) scale(1,1.035)">Aug</text>
<text class="t" text-anchor="middle" transform="translate(769.4,2060) scale(1,1.035)">Sep</text>
<text class="t" text-anchor="middle" transform="translate(846.3,2060) scale(1,1.035)">Oct</text>
<text class="t" text-anchor="middle" transform="translate(923.2,2060) scale(1,1.035)">Nov</text>
<text class="t" text-anchor="middle" transform="translate(1000.1,2060) scale(1,1.035)">Dec</text>
</g>
<g>
<polygon fill="#ff7f0e" fill-opacity="0.105" points="1177.0,1741.8 1253.9,1740.6 1330.8,1738.8 1407.8,1736.1 1484.7,1736.1 1561.6,1743.5 1638.5,1754.2 1715.4,1758.7 1792.4,1756.2 1869.3,1748.0 1946.2,1741.8 2023.1,1741.8 2023.1,1784.6 1946.2,1783.3 1869.3,1789.1 1792.4,1802.7 1715.4,1811.4 1638.5,1797.8 1561.6,1785.3 1484.7,1776.6 1407.8,1775.9 1330.8,1779.1 1253.9,1782.8 1177.0,1785.3"/>
<polygon fill="#2ca02c" fill-opacity="0.105" points="1177.0,1747.5 1253.9,1746.8 1330.8,1743.0 1407.8,1739.3 1484.7,1739.3 1561.6,1750.0 1638.5,1770.4 1715.4,1780.4 1792.4,1776.6 1869.3,1760.5 1946.2,1751.8 2023.1,1749.3 2023.1,1797.8 1946.2,1796.0 1869.3,1804.0 1792.4,1843.8 1715.4,1856.2 1638.5,1818.9 1561.6,1795.3 1484.7,1784.1 1407.8,1785.3 1330.8,1792.3 1253.9,1795.3 1177.0,1796.5"/>
<polygon fill="#d62728" fill-opacity="0.105" points="1177.0,1818.9 1253.9,1812.2 1330.8,1794.0 1407.8,1779.1 1484.7,1777.1 1561.6,1817.7 1638.5,1832.1 1715.4,1831.3 1792.4,1827.1 1869.3,1820.6 1946.2,1819.6 2023.1,1817.2 2023.1,1833.8 1946.2,1832.6 1869.3,1887.3 1792.4,1954.4 1715.4,1971.4 1638.5,1956.9 1561.6,1899.7 1484.7,1840.5 1407.8,1822.6 1330.8,1829.3 1253.9,1841.3 1177.0,1842.5"/>
<polyline fill="none" stroke="#1f77b4" stroke-width="3.8" stroke-linejoin="round" stroke-linecap="square" points="1177.0,1736.1 1253.9,1733.6 1330.8,1733.6 1407.8,1733.6 1484.7,1736.3 1561.6,1746.0 1638.5,1767.9 1715.4,1775.9 1792.4,1771.9 1869.3,1753.5 1946.2,1743.5 2023.1,1737.1"/>
<polyline fill="none" stroke="#ff7f0e" stroke-width="3.8" stroke-linejoin="round" stroke-linecap="square" points="1177.0,1757.5 1253.9,1756.0 1330.8,1752.5 1407.8,1747.3 1484.7,1746.8 1561.6,1757.5 1638.5,1772.4 1715.4,1784.6 1792.4,1779.1 1869.3,1763.7 1946.2,1756.2 2023.1,1756.0"/>
<polyline fill="none" stroke="#2ca02c" stroke-width="3.8" stroke-linejoin="round" stroke-linecap="square" points="1177.0,1769.2 1253.9,1767.9 1330.8,1761.2 1407.8,1755.5 1484.7,1755.5 1561.6,1771.2 1638.5,1797.3 1715.4,1815.2 1792.4,1806.5 1869.3,1781.6 1946.2,1769.9 2023.1,1769.4"/>
<polyline fill="none" stroke="#d62728" stroke-width="3.8" stroke-linejoin="round" stroke-linecap="square" points="1177.0,1826.6 1253.9,1823.1 1330.8,1808.5 1407.8,1802.2 1484.7,1810.2 1561.6,1846.3 1638.5,1880.3 1715.4,1888.0 1792.4,1879.3 1869.3,1848.7 1946.2,1825.6 2023.1,1824.6"/>
<rect x="1135.4" y="1656.3" width="930.3" height="360.2" fill="none" stroke="#000" stroke-width="2.2"/>
<path d="M1177.0 2016.5v9.0M1253.9 2016.5v9.0M1330.8 2016.5v9.0M1407.8 2016.5v9.0M1484.7 2016.5v9.0M1561.6 2016.5v9.0M1638.5 2016.5v9.0M1715.4 2016.5v9.0M1792.4 2016.5v9.0M1869.3 2016.5v9.0M1946.2 2016.5v9.0M2023.1 2016.5v9.0M1135.4 2016.5h-9.0M1135.4 1944.5h-9.0M1135.4 1872.5h-9.0M1135.4 1800.4h-9.0M1135.4 1728.4h-9.0M1135.4 1656.3h-9.0" stroke="#000" stroke-width="2.2" fill="none"/>
<path d="M1135.4 1980.5h-5.4M1135.4 1908.5h-5.4M1135.4 1836.5h-5.4M1135.4 1764.4h-5.4M1135.4 1692.4h-5.4" stroke="#000" stroke-width="1.7" fill="none"/>
<text class="t" text-anchor="end" transform="translate(1117.2,2029.5) scale(1,1.045)">0.0</text>
<text class="t" text-anchor="end" transform="translate(1117.2,1957.4) scale(1,1.045)">0.2</text>
<text class="t" text-anchor="end" transform="translate(1117.2,1885.4) scale(1,1.045)">0.4</text>
<text class="t" text-anchor="end" transform="translate(1117.2,1813.3) scale(1,1.045)">0.6</text>
<text class="t" text-anchor="end" transform="translate(1117.2,1741.3) scale(1,1.045)">0.8</text>
<text class="t" text-anchor="end" transform="translate(1117.2,1669.2) scale(1,1.045)">1.0</text>
<text class="t" text-anchor="middle" transform="translate(1177.0,2060) scale(1,1.035)">Jan</text>
<text class="t" text-anchor="middle" transform="translate(1253.9,2060) scale(1,1.035)">Feb</text>
<text class="t" text-anchor="middle" transform="translate(1330.8,2060) scale(1,1.035)">Mar</text>
<text class="t" text-anchor="middle" transform="translate(1407.8,2060) scale(1,1.035)">Apr</text>
<text class="t" text-anchor="middle" transform="translate(1484.7,2060) scale(1,1.035)">May</text>
<text class="t" text-anchor="middle" transform="translate(1561.6,2060) scale(1,1.035)">Jun</text>
<text class="t" text-anchor="middle" transform="translate(1638.5,2060) scale(1,1.035)">Jul</text>
<text class="t" text-anchor="middle" transform="translate(1715.4,2060) scale(1,1.035)">Aug</text>
<text class="t" text-anchor="middle" transform="translate(1792.4,2060) scale(1,1.035)">Sep</text>
<text class="t" text-anchor="middle" transform="translate(1869.3,2060) scale(1,1.035)">Oct</text>
<text class="t" text-anchor="middle" transform="translate(1946.2,2060) scale(1,1.035)">Nov</text>
<text class="t" text-anchor="middle" transform="translate(2023.1,2060) scale(1,1.035)">Dec</text>
</g>
<text class="a" text-anchor="middle" transform="translate(577.3,27.3) scale(1,1.035)">SSP126</text>
<text class="a" text-anchor="middle" transform="translate(1600.5,27.3) scale(1,1.035)">SSP585</text>
<text class="a" transform="translate(139.1,96.5) scale(1,1.035)">(a)</text>
<text class="a" transform="translate(1162.4,96.5) scale(1,1.035)">(b)</text>
<text class="a" transform="translate(139.1,506.5) scale(1,1.035)">(c)</text>
<text class="a" transform="translate(1162.4,506.5) scale(1,1.035)">(d)</text>
<text class="a" transform="translate(139.1,905.8) scale(1,1.035)">(e)</text>
<text class="a" transform="translate(1162.4,905.8) scale(1,1.035)">(f)</text>
<text class="a" transform="translate(139.1,1588.1) scale(1,1.035)">(g)</text>
<text class="a" transform="translate(1162.4,1588.1) scale(1,1.035)">(h)</text>
<text class="a" transform="translate(139.1,1710.9) scale(1,1.035)">(i)</text>
<text class="a" transform="translate(1162.4,1710.9) scale(1,1.035)">(j)</text>
<text class="a" transform="translate(561.5,96.5) scale(1,1.035)">&lt; 4000 m</text>
<text class="a" transform="translate(520.5,506.5) scale(1,1.035)">[4000 m, 4500 m)</text>
<text class="a" transform="translate(520.5,905.8) scale(1,1.035)">[4500 m, 5000 m)</text>
<text class="a" transform="translate(513.0,1588.1) scale(1,1.035)">[5000 m, 5500 m)</text>
<path d="M553 1685.3L575 1694.1V1696.9L553 1705.7V1702.1L569.3 1695.5L553 1688.9ZM553 1710.5H575V1713.5H553Z" fill="#000"/>
<text class="a" transform="translate(584.3,1710.9) scale(1,1.035)">5500 m</text>
<text text-anchor="middle" font-size="50" transform="translate(34.3,1030.3) rotate(-90)">FSCA (%)</text>
<line x1="247" y1="1902.5" x2="330" y2="1902.5" stroke="#1f77b4" stroke-width="4.0"/>
<text class="a" transform="translate(360,1916.8) scale(1,1.035)">Ref</text>
<line x1="247" y1="1958.4" x2="330" y2="1958.4" stroke="#ff7f0e" stroke-width="4.0"/>
<text class="a" transform="translate(360,1972.7) scale(1,1.035)">Near term</text>
<line x1="612.2" y1="1902.5" x2="695.2" y2="1902.5" stroke="#2ca02c" stroke-width="4.0"/>
<text class="a" transform="translate(725.5,1916.8) scale(1,1.035)">Midterm</text>
<line x1="612.2" y1="1958.4" x2="695.2" y2="1958.4" stroke="#d62728" stroke-width="4.0"/>
<text class="a" transform="translate(725.5,1972.7) scale(1,1.035)">Long term</text>
</svg></body></html>
